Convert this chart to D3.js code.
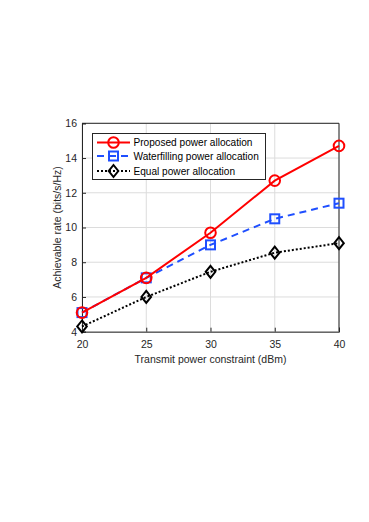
<!DOCTYPE html>
<html>
<head>
<meta charset="utf-8">
<script src="https://cdn.jsdelivr.net/npm/d3@7"></script>
<style>
  body { margin: 0; background: #fff; }
  svg { font-family: "Liberation Sans", Arial, sans-serif; }
</style>
</head>
<body>
<svg id="chart"></svg>
<script>
const width = 369, height = 522;
const margin = {left: 82, right: 30, top: 123, bottom: 190};

const power = [20, 25, 30, 35, 40];
const proposed = [5.1, 7.1, 9.7, 12.7, 14.7];
const waterfilling = [5.1, 7.1, 9.0, 10.5, 11.4];
const equal = [4.3, 6.0, 7.45, 8.55, 9.1];
const xTicks = [20, 25, 30, 35, 40];
const yTicks = [4, 6, 8, 10, 12, 14, 16];

const svg = d3.select('#chart').attr('width', width).attr('height', height);

const x = d3.scaleLinear().domain([20, 40]).range([margin.left, 339]);
const y = d3.scaleLinear().domain([4, 16]).range([331.7, 123.3]);

// grid
svg.append('g').selectAll('line').data(xTicks).join('line')
  .attr('x1', d => x(d)).attr('x2', d => x(d))
  .attr('y1', y(4)).attr('y2', y(16))
  .attr('stroke', '#dcdcdc').attr('stroke-width', 1);
svg.append('g').selectAll('line').data(yTicks).join('line')
  .attr('x1', x(20)).attr('x2', x(40))
  .attr('y1', d => y(d)).attr('y2', d => y(d))
  .attr('stroke', '#dcdcdc').attr('stroke-width', 1);

// axes
const xAxis = svg.append('g').attr('transform', `translate(0,${y(4)})`)
  .call(d3.axisBottom(x).tickValues(xTicks).tickSize(-4).tickPadding(9));
const yAxis = svg.append('g').attr('transform', `translate(${x(20)},0)`)
  .call(d3.axisLeft(y).tickValues(yTicks).tickSize(-4).tickPadding(5));
[xAxis, yAxis].forEach(g => {
  g.select('.domain').attr('stroke', '#262626');
  g.selectAll('.tick line').attr('stroke', '#262626');
  g.selectAll('text').attr('font-size', 10.5).attr('fill', '#262626')
    .attr('font-family', '"Liberation Sans", Arial, sans-serif');
});
// top and right border
svg.append('path')
  .attr('d', `M${x(20)},${y(16)}H${x(40)}V${y(4)}`)
  .attr('fill', 'none').attr('stroke', '#262626');

svg.append('text').attr('x', (x(20) + x(40)) / 2).attr('y', 363)
  .attr('text-anchor', 'middle').attr('font-size', 10.5).attr('fill', '#262626')
  .text('Transmit power constraint (dBm)');
svg.append('text')
  .attr('transform', `translate(61,${(y(4) + y(16)) / 2}) rotate(-90)`)
  .attr('text-anchor', 'middle').attr('font-size', 10.5).attr('fill', '#262626')
  .text('Achievable rate (bits/s/Hz)');

const line = d3.line().x((d, i) => x(power[i])).y(d => y(d));

function marker(g, type, color, cx, cy) {
  if (type === 'circle') {
    g.append('circle').attr('cx', cx).attr('cy', cy).attr('r', 5.3)
      .attr('fill', 'none').attr('stroke', color).attr('stroke-width', 2);
  } else if (type === 'square') {
    g.append('rect').attr('x', cx - 4.5).attr('y', cy - 4.5).attr('width', 9).attr('height', 9)
      .attr('fill', 'none').attr('stroke', color).attr('stroke-width', 2);
  } else {
    g.append('path').attr('d', `M${cx},${cy - 6}L${cx + 4.8},${cy}L${cx},${cy + 6}L${cx - 4.8},${cy}Z`)
      .attr('fill', 'none').attr('stroke', color).attr('stroke-width', 2);
  }
}

const series = [
  {name: 'Proposed power allocation', data: proposed, color: '#ff0000', dash: null, type: 'circle'},
  {name: 'Waterfilling power allocation', data: waterfilling, color: '#1f4fff', dash: '7,5', type: 'square'},
  {name: 'Equal power allocation', data: equal, color: '#000000', dash: '2,2', type: 'diamond'}
];

// draw in reverse order so red is on top of blue like reference
[series[2], series[1], series[0]].forEach(s => {
  const g = svg.append('g');
  g.append('path').datum(s.data).attr('d', line)
    .attr('fill', 'none').attr('stroke', s.color).attr('stroke-width', 2)
    .attr('stroke-dasharray', s.dash);
  s.data.forEach((v, i) => marker(g, s.type, s.color, x(power[i]), y(v)));
});

// legend
const lg = svg.append('g');
lg.append('rect').attr('x', 92.5).attr('y', 133.5).attr('width', 173).attr('height', 46)
  .attr('fill', '#fff').attr('stroke', '#262626').attr('stroke-width', 1);
const rowsY = [142.5, 156, 171];
series.forEach((s, i) => {
  const ly = rowsY[i];
  lg.append('line').attr('x1', 97).attr('x2', 130).attr('y1', ly).attr('y2', ly)
    .attr('stroke', s.color).attr('stroke-width', 2).attr('stroke-dasharray', s.dash);
  marker(lg, s.type, s.color, 113.5, ly);
  lg.append('text').attr('x', 133.5).attr('y', ly + 3.7).attr('font-size', 10.1)
    .attr('fill', '#000').text(s.name);
});
</script>
</body>
</html>
